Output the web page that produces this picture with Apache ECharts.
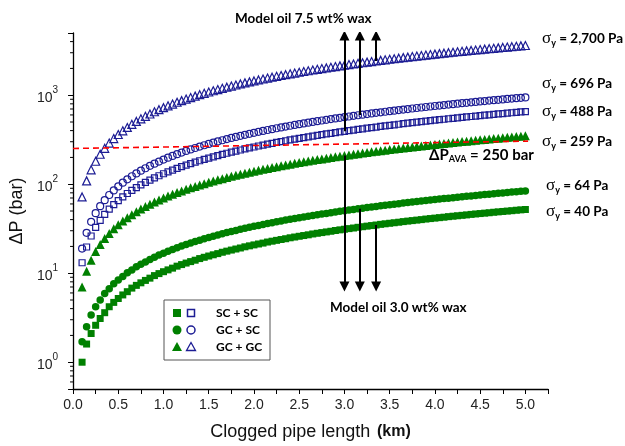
<!DOCTYPE html>
<html><head><meta charset="utf-8">
<script src="https://cdn.jsdelivr.net/npm/echarts@6/dist/echarts.min.js"></script>
<style>html,body{margin:0;padding:0;background:#fff}#c{width:625px;height:446px}</style>
</head><body><div id="c"></div>
<script>
// Clogged pipe length (km)
const lengths = [0.10,0.15,0.20,0.25,0.30,0.35,0.40,0.45,
 0.50,0.55,0.60,0.65,0.70,0.75,0.80,0.85,0.90,0.95,
 1.00,1.05,1.10,1.15,1.20,1.25,1.30,1.35,1.40,1.45,
 1.50,1.55,1.60,1.65,1.70,1.75,1.80,1.85,1.90,1.95,
 2.00,2.05,2.10,2.15,2.20,2.25,2.30,2.35,2.40,2.45,
 2.50,2.55,2.60,2.65,2.70,2.75,2.80,2.85,2.90,2.95,
 3.00,3.05,3.10,3.15,3.20,3.25,3.30,3.35,3.40,3.45,
 3.50,3.55,3.60,3.65,3.70,3.75,3.80,3.85,3.90,3.95,
 4.00,4.05,4.10,4.15,4.20,4.25,4.30,4.35,4.40,4.45,
 4.50,4.55,4.60,4.65,4.70,4.75,4.80,4.85,4.90,4.95,
 5.00];
// ΔP (bar), model oil 3.0 wt% wax (green, filled)
const scsc_30 = [1.0,1.6,2.1,2.6,3.1,3.6,4.2,4.7,
 5.2,5.7,6.2,6.8,7.3,7.8,8.3,8.8,9.4,9.9,
 10.4,10.9,11.4,12.0,12.5,13.0,13.5,14.0,14.6,15.1,
 15.6,16.1,16.6,17.2,17.7,18.2,18.7,19.2,19.8,20.3,
 20.8,21.3,21.8,22.4,22.9,23.4,23.9,24.4,25.0,25.5,
 26.0,26.5,27.0,27.6,28.1,28.6,29.1,29.6,30.2,30.7,
 31.2,31.7,32.2,32.8,33.3,33.8,34.3,34.8,35.4,35.9,
 36.4,36.9,37.4,38.0,38.5,39.0,39.5,40.0,40.6,41.1,
 41.6,42.1,42.6,43.2,43.7,44.2,44.7,45.2,45.8,46.3,
 46.8,47.3,47.8,48.4,48.9,49.4,49.9,50.4,51.0,51.5,
 52.0];
const gcsc_30 = [1.7,2.5,3.4,4.2,5.0,5.9,6.7,7.6,
 8.4,9.2,10.1,10.9,11.8,12.6,13.4,14.3,15.1,16.0,
 16.8,17.6,18.5,19.3,20.2,21.0,21.8,22.7,23.5,24.4,
 25.2,26.0,26.9,27.7,28.6,29.4,30.2,31.1,31.9,32.8,
 33.6,34.4,35.3,36.1,37.0,37.8,38.6,39.5,40.3,41.2,
 42.0,42.8,43.7,44.5,45.4,46.2,47.0,47.9,48.7,49.6,
 50.4,51.2,52.1,52.9,53.8,54.6,55.4,56.3,57.1,58.0,
 58.8,59.6,60.5,61.3,62.2,63.0,63.8,64.7,65.5,66.4,
 67.2,68.0,68.9,69.7,70.6,71.4,72.2,73.1,73.9,74.8,
 75.6,76.4,77.3,78.1,79.0,79.8,80.6,81.5,82.3,83.2,
 84.0];
const gcgc_30 = [7,10.5,14,17.5,21,24.5,28,31.5,
 35,38.5,42,45.5,49,52.5,56,59.5,63,66.5,
 70,73.5,77,80.5,84,87.5,91,94.5,98,101.5,
 105,108.5,112,115.5,119,122.5,126,129.5,133,136.5,
 140,143.5,147,150.5,154,157.5,161,164.5,168,171.5,
 175,178.5,182,185.5,189,192.5,196,199.5,203,206.5,
 210,213.5,217,220.5,224,227.5,231,234.5,238,241.5,
 245,248.5,252,255.5,259,262.5,266,269.5,273,276.5,
 280,283.5,287,290.5,294,297.5,301,304.5,308,311.5,
 315,318.5,322,325.5,329,332.5,336,339.5,343,346.5,
 350];
// ΔP (bar), model oil 7.5 wt% wax (blue, hollow)
const scsc_75 = [13.1,19.7,26.2,32.8,39.3,45.9,52.4,59.0,
 65.5,72.1,78.6,85.2,91.7,98.3,104.8,111.4,117.9,124.5,
 131,137.6,144.1,150.7,157.2,163.8,170.3,176.9,183.4,190.0,
 196.5,203,209.6,216.2,222.7,229.3,235.8,242.4,248.9,255.5,
 262,268.6,275.1,281.7,288.2,294.8,301.3,307.9,314.4,321,
 327.5,334,340.6,347.2,353.7,360.3,366.8,373.4,379.9,386.5,
 393,399.6,406.1,412.7,419.2,425.8,432.3,438.9,445.4,452,
 458.5,465,471.6,478.2,484.7,491.3,497.8,504.4,510.9,517.5,
 524,530.6,537.1,543.7,550.2,556.8,563.3,569.9,576.4,583,
 589.5,596,602.6,609.2,615.7,622.3,628.8,635.4,641.9,648.5,
 655];
const gcsc_75 = [18.9,28.4,37.8,47.3,56.7,66.2,75.6,85.1,
 94.5,104,113.4,122.9,132.3,141.8,151.2,160.7,170.1,179.6,
 189,198.5,207.9,217.4,226.8,236.3,245.7,255.2,264.6,274.1,
 283.5,293,302.4,311.9,321.3,330.8,340.2,349.7,359.1,368.6,
 378,387.5,396.9,406.4,415.8,425.3,434.7,444.2,453.6,463.1,
 472.5,482,491.4,500.9,510.3,519.8,529.2,538.7,548.1,557.6,
 567,576.5,585.9,595.4,604.8,614.3,623.7,633.2,642.6,652.1,
 661.5,671,680.4,689.9,699.3,708.8,718.2,727.7,737.1,746.6,
 756,765.5,774.9,784.4,793.8,803.3,812.7,822.2,831.6,841.1,
 850.5,860,869.4,878.9,888.3,897.8,907.2,916.7,926.1,935.6,
 945];
const gcgc_75 = [72,109,145,181,217,253,290,326,
 362,398,434,471,507,543,579,615,652,688,
 724,760,796,833,869,905,941,977,1014,1050,
 1086,1122,1158,1195,1231,1267,1303,1339,1376,1412,
 1448,1484,1520,1557,1593,1629,1665,1701,1738,1774,
 1810,1846,1882,1919,1955,1991,2027,2063,2100,2136,
 2172,2208,2244,2281,2317,2353,2389,2425,2462,2498,
 2534,2570,2606,2643,2679,2715,2751,2787,2824,2860,
 2896,2932,2968,3005,3041,3077,3113,3149,3186,3222,
 3258,3294,3330,3367,3403,3439,3475,3511,3548,3584,
 3620];
// Available pressure line (as drawn)
const availX = [0, 5.03];
const availY = [252, 305];
// Arrows: x positions, start values (on curves), tips
const arrowX = [3.0, 3.17, 3.35];
const upFrom = [393, 599, 2425];
const upTip = 4680;
const downFrom = [210, 53, 34.8];
const downTip = 7.07;
// y-axis minor tick values
const minorY = [0.6,0.7,0.8,0.9,2,3,4,5,6,7,8,9,20,30,40,50,60,70,80,90,
 200,300,400,500,600,700,800,900,2000,3000,4000];
// Labels
const yieldLabels = ['2,700 Pa','696 Pa','488 Pa','259 Pa','64 Pa','40 Pa'];
const legendLabels = ['SC + SC','GC + SC','GC + GC'];

const GREEN = '#008000', BLUE = '#1c1c94';
const zip = a => lengths.map((x, i) => [x, a[i]]);

const chart = echarts.init(document.getElementById('c'));
const sansFont = 'Liberation Sans';
const boldFont = 'Lato';

function scat(data, sym, size, filled) {
  return {
    type: 'scatter', data: zip(data), symbol: sym, symbolSize: size,
    itemStyle: filled ? {color: GREEN, opacity: 1} :
      {color: 'rgba(0,0,0,0)', borderColor: BLUE, borderWidth: 1.2, opacity: 1},
    silent: true, animation: false, z: 2
  };
}

const rightTexts = [];
const labelY = [40, 85, 113, 143, 187, 213];
const labelX = [542, 542, 542, 542, 546, 546];
yieldLabels.forEach((t, i) => {
  rightTexts.push({
    type: 'text', left: labelX[i], top: labelY[i] - 10,
    style: {
      text: '{s|σ}{u|y}{t| = ' + t + '}',
      rich: {
        s: {fontFamily: 'Liberation Serif', fontSize: 17, fill: '#000', lineHeight: 20},
        u: {fontFamily: boldFont, fontWeight: 'bold', fontSize: 9, fill: '#000', padding: [9, 0, 0, 0], lineHeight: 20},
        t: {fontFamily: boldFont, fontWeight: 'bold', fontSize: 13.5, fill: '#000', lineHeight: 20}
      }
    }
  });
});

const legendSyms = [];
const lx = [177, 191], ly = [313, 330, 347];
legendSyms.push({type: 'rect', shape: {x: 164, y: 300, width: 106, height: 60}, style: {fill: '#fff', stroke: '#555', lineWidth: 1}, z: 10});
legendSyms.push({type: 'rect', shape: {x: lx[0] - 4, y: ly[0] - 4, width: 8, height: 8}, style: {fill: GREEN}, z: 11});
legendSyms.push({type: 'rect', shape: {x: lx[1] - 3.5, y: ly[0] - 3.5, width: 7, height: 7}, style: {fill: 'none', stroke: BLUE, lineWidth: 1.5}, z: 11});
legendSyms.push({type: 'circle', shape: {cx: lx[0], cy: ly[1], r: 4.5}, style: {fill: GREEN}, z: 11});
legendSyms.push({type: 'circle', shape: {cx: lx[1], cy: ly[1], r: 4}, style: {fill: 'none', stroke: BLUE, lineWidth: 1.5}, z: 11});
legendSyms.push({type: 'polygon', shape: {points: [[lx[0], ly[2] - 5], [lx[0] + 5, ly[2] + 4], [lx[0] - 5, ly[2] + 4]]}, style: {fill: GREEN}, z: 11});
legendSyms.push({type: 'polygon', shape: {points: [[lx[1], ly[2] - 4.5], [lx[1] + 4.5, ly[2] + 3.5], [lx[1] - 4.5, ly[2] + 3.5]]}, style: {fill: 'none', stroke: BLUE, lineWidth: 1.3}, z: 11});
legendLabels.forEach((t, i) => {
  legendSyms.push({type: 'text', x: 216, y: ly[i], style: {text: t, fontFamily: boldFont, fontWeight: 'bold', fontSize: 12, fill: '#000', verticalAlign: 'middle'}, z: 11});
});

chart.setOption({
  animation: false,
  grid: {left: 67, right: 77, top: 33, bottom: 56},
  xAxis: {
    type: 'value', min: 0, max: 5.25, interval: 0.25,
    axisLine: {show: true, lineStyle: {color: '#000', width: 1.3}},
    axisTick: {show: true, length: 5, lineStyle: {color: '#000'}},
    splitLine: {show: false},
    axisLabel: {
      fontFamily: sansFont, fontSize: 14, color: '#222', margin: 9,
      formatter: v => (Math.abs(v * 2 - Math.round(v * 2)) < 1e-6 && v <= 5.0) ? v.toFixed(1) : ''
    },
    name: '{a|Clogged pipe length}  {b|(km)}',
    nameLocation: 'middle', nameGap: 34,
    nameTextStyle: {
      rich: {
        a: {fontFamily: sansFont, fontSize: 18, color: '#111'},
        b: {fontFamily: sansFont, fontSize: 16, fontWeight: 'bold', color: '#111'}
      }
    }
  },
  yAxis: {
    type: 'log', logBase: 10, min: 0.5, max: 5000,
    axisLine: {show: true, lineStyle: {color: '#000', width: 1.3}},
    axisTick: {show: true, length: 5, lineStyle: {color: '#000'}},
    splitLine: {show: false},
    axisLabel: {
      margin: 15,
      formatter: v => {
        const l = Math.log10(v);
        if (Math.abs(l - Math.round(l)) > 1e-6) return '';
        return '{b|10}{s|' + Math.round(l) + '}';
      },
      rich: {
        b: {fontFamily: sansFont, fontSize: 14, color: '#222', padding: [6, 0, 0, 0]},
        s: {fontFamily: sansFont, fontSize: 10, color: '#222', verticalAlign: 'top'}
      }
    },
    name: 'ΔP (bar)', nameLocation: 'middle', nameGap: 36, nameRotate: 90,
    nameTextStyle: {fontFamily: sansFont, fontSize: 18, color: '#111'}
  },
  series: [
    scat(scsc_30, 'rect', 7, true),
    scat(gcsc_30, 'circle', 7.5, true),
    scat(gcgc_30, 'triangle', 9, true),
    scat(scsc_75, 'rect', 6, false),
    scat(gcsc_75, 'circle', 7, false),
    scat(gcgc_75, 'triangle', 8, false),
    {
      type: 'line', data: availX.map((x, i) => [x, availY[i]]),
      showSymbol: false, symbol: 'none', z: 4, silent: true,
      lineStyle: {color: '#ff0000', width: 1.6, type: [6, 4]}
    },
    {
      type: 'lines', coordinateSystem: 'cartesian2d', z: 5, silent: true,
      symbol: ['none', 'triangle'], symbolSize: [7, 10],
      lineStyle: {color: '#000', width: 2, opacity: 1},
      data: arrowX.map((x, i) => ({coords: [[x, upFrom[i]], [x, upTip]]}))
        .concat(arrowX.map((x, i) => ({coords: [[x, downFrom[i]], [x, downTip]]})))
    },
    {
      type: 'custom', coordinateSystem: 'cartesian2d', silent: true, clip: false, z: 6,
      data: minorY.map(v => [0, v]),
      renderItem: (params, api) => {
        const p = api.coord([0, api.value(1)]);
        return {type: 'line', shape: {x1: p[0] - 3, y1: p[1], x2: p[0], y2: p[1]},
          style: {stroke: '#000', lineWidth: 1}};
      }
    }
  ],
  graphic: [
    {type: 'text', left: 235, top: 12, style: {text: 'Model oil 7.5 wt% wax', fontFamily: boldFont, fontWeight: 'bold', fontSize: 13.5, fill: '#000'}},
    {type: 'text', left: 330, top: 301, style: {text: 'Model oil 3.0 wt% wax', fontFamily: boldFont, fontWeight: 'bold', fontSize: 13.5, fill: '#000'}},
    {type: 'text', left: 429, top: 146, style: {
      text: '{a|ΔP}{b|AVA}{a| = 250 bar}',
      rich: {
        a: {fontFamily: boldFont, fontWeight: 'bold', fontSize: 15, fill: '#000', lineHeight: 22},
        b: {fontFamily: boldFont, fontWeight: 'bold', fontSize: 9, fill: '#000', padding: [9, 0, 0, 0], lineHeight: 22}
      }
    }}
  ].concat(rightTexts).concat(legendSyms)
});
</script></body></html>
